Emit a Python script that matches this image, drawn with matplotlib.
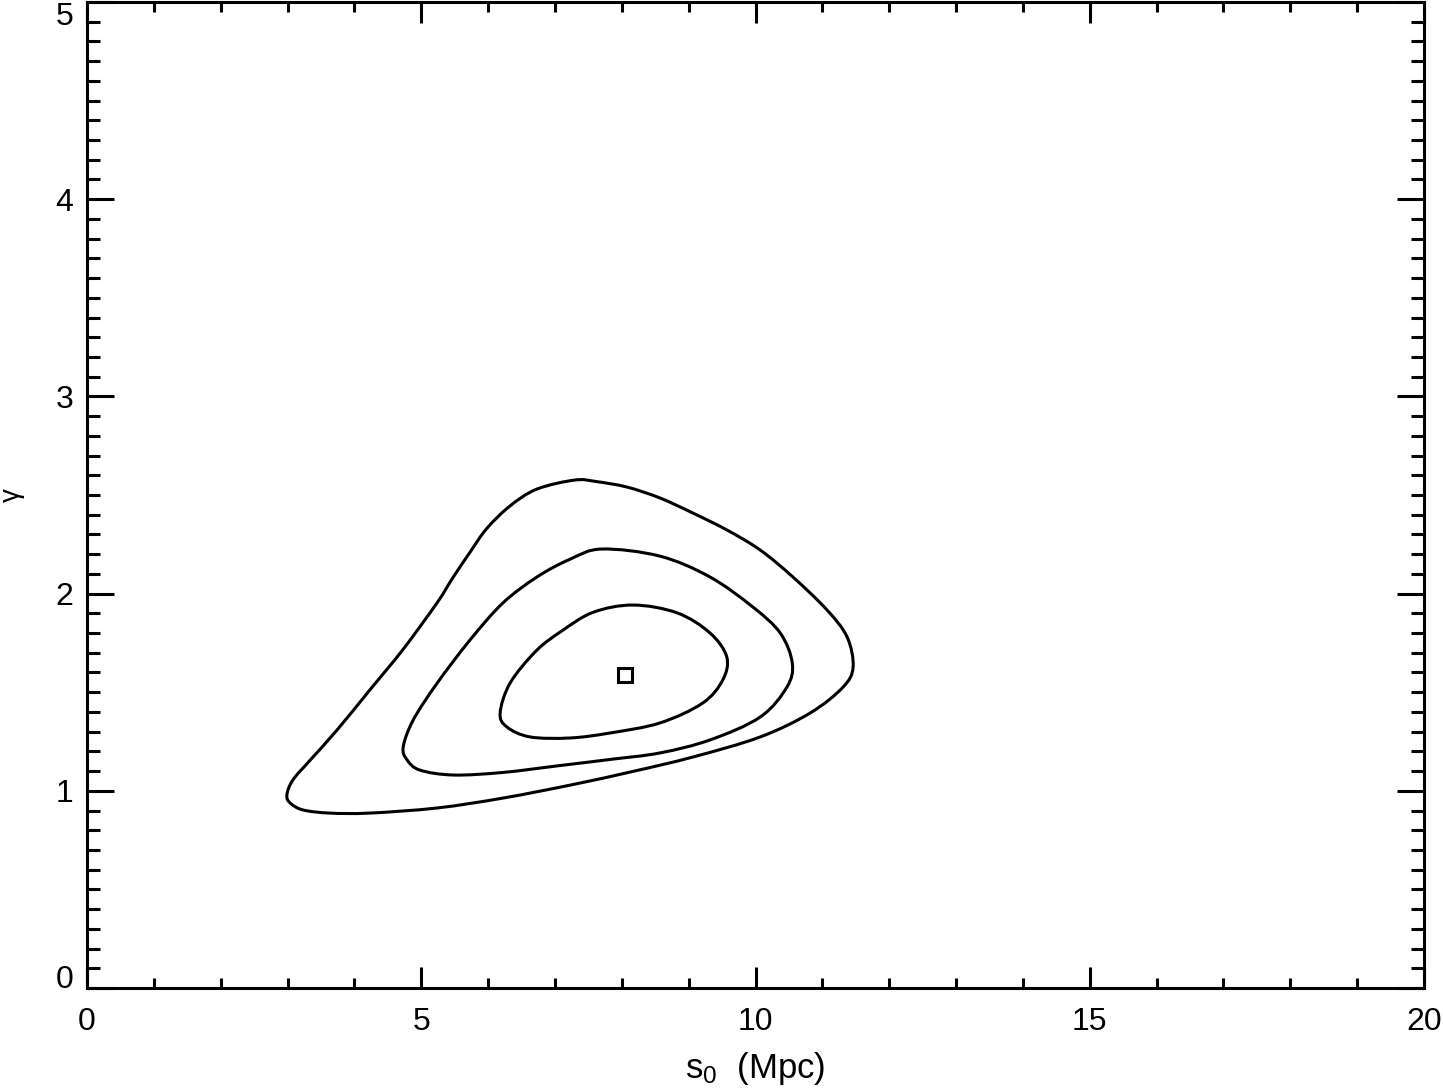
import numpy as np
import matplotlib
matplotlib.use("Agg")
import matplotlib.pyplot as plt
from matplotlib.ticker import MultipleLocator
from matplotlib.path import Path
from matplotlib.patches import PathPatch

plt.rcParams['font.family'] = ['Liberation Sans', 'DejaVu Sans']
plt.rcParams['mathtext.fontset'] = 'custom'
plt.rcParams['mathtext.rm'] = 'Liberation Sans'
plt.rcParams['mathtext.default'] = 'regular'

# contour levels (s0 in Mpc, gamma)
outer_s0 = [7.30, 6.73, 6.33, 5.98, 5.73, 5.47, 5.24, 4.73, 4.23, 3.74, 3.34, 3.08, 2.99,
            3.04, 3.23, 3.63, 4.23, 5.24, 6.22, 7.23, 8.15, 9.06, 10.07, 10.82, 11.31,
            11.46, 11.37, 11.07, 10.56, 10.07, 9.57, 9.06, 8.57, 8.08, 7.62]
outer_gam = [2.576, 2.530, 2.445, 2.330, 2.210, 2.079, 1.955, 1.718, 1.511, 1.308, 1.156, 1.055, 0.979,
             0.938, 0.903, 0.887, 0.887, 0.913, 0.963, 1.029, 1.097, 1.171, 1.273, 1.395, 1.526,
             1.628, 1.780, 1.917, 2.084, 2.221, 2.323, 2.409, 2.485, 2.540, 2.568]

mid_s0 = [7.70, 7.23, 6.73, 6.22, 5.73, 5.24, 4.88, 4.73, 4.79, 4.98, 5.48, 6.22,
          7.05, 7.85, 8.57, 9.32, 10.07, 10.47, 10.55, 10.37, 9.96, 9.32, 8.57]
mid_gam = [2.226, 2.175, 2.084, 1.952, 1.765, 1.547, 1.359, 1.222, 1.156, 1.105, 1.080, 1.093,
           1.127, 1.160, 1.192, 1.258, 1.374, 1.526, 1.648, 1.800, 1.932, 2.084, 2.190]

inner_s0 = [8.17, 7.57, 7.10, 6.72, 6.33, 6.18, 6.28, 6.63, 7.23, 7.82, 8.57, 9.21,
            9.51, 9.57, 9.32, 8.83]
inner_gam = [1.942, 1.905, 1.810, 1.710, 1.547, 1.395, 1.324, 1.273, 1.268, 1.293, 1.344, 1.445,
             1.562, 1.679, 1.800, 1.902]

best_s0 = 8.05
best_gam = 1.587

xticks = [0, 5, 10, 15, 20]
yticks = [0, 1, 2, 3, 4, 5]


def closed_curve(xs, ys):
    # smooth closed path through the read points (bezier segments)
    p = np.column_stack([xs, ys])
    n = len(p)
    verts = [p[0]]
    codes = [Path.MOVETO]
    for i in range(n):
        p0, p1, p2, p3 = p[i - 1], p[i], p[(i + 1) % n], p[(i + 2) % n]
        verts += [p1 + (p2 - p0) / 6, p2 - (p3 - p1) / 6, p2]
        codes += [Path.CURVE4] * 3
    return Path(verts, codes)


fig = plt.figure(figsize=(14.43, 10.91), dpi=100)
ax = fig.add_axes([87/1443, 1 - 988/1091, (1424 - 87)/1443, (988 - 2)/1091])

for xs, ys in [(outer_s0, outer_gam), (mid_s0, mid_gam), (inner_s0, inner_gam)]:
    ax.add_patch(PathPatch(closed_curve(xs, ys), fill=False, ec='black', lw=2.2))

ax.plot(best_s0, best_gam, marker='s', ms=10, mfc='none', mec='black', mew=2.2)

ax.set_xlim(0, 20)
ax.set_ylim(0, 5)
ax.set_xticks(xticks)
ax.set_yticks(yticks)
ax.xaxis.set_minor_locator(MultipleLocator(1))
ax.yaxis.set_minor_locator(MultipleLocator(0.1))

for s in ax.spines.values():
    s.set_linewidth(2.2)

ax.tick_params(axis='both', which='both', direction='in', top=True, right=True,
               width=2.2, labelsize=23)
ax.tick_params(axis='x', which='major', length=15, pad=14)
ax.tick_params(axis='x', which='minor', length=7.5)
ax.tick_params(axis='y', which='major', length=19.5, pad=10)
ax.tick_params(axis='y', which='minor', length=9.5)

ylabs = ax.get_yticklabels()
ylabs[0].set_va('baseline')
ylabs[-1].set_va('top')

ax.set_xlabel('s$_0$  (Mpc)', fontsize=25, va='top')
ax.xaxis.set_label_coords(0.5, -0.063)
ax.set_ylabel('γ', fontsize=20, va='center', rotation=90)
ax.yaxis.set_label_coords(-0.056, 0.5)

fig.savefig('out.png', dpi=100)
